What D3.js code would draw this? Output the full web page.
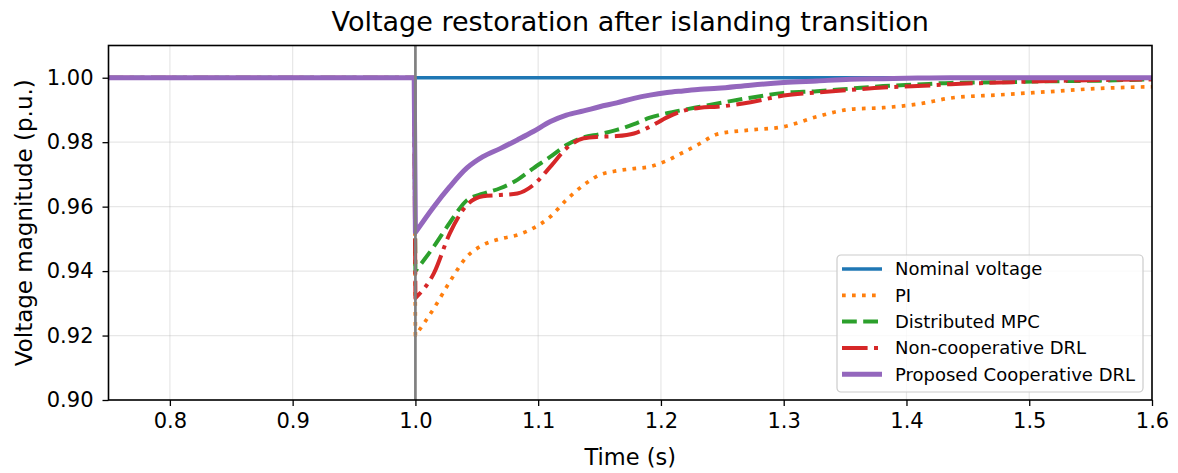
<!DOCTYPE html>
<html>
<head>
<meta charset="utf-8">
<script src="https://cdn.jsdelivr.net/npm/d3@7/dist/d3.min.js"></script>
<style>
  html, body { margin: 0; padding: 0; background: #fff; }
  svg { display: block; font-family: "DejaVu Sans", sans-serif; }
</style>
</head>
<body>
<svg id="chart" width="1178" height="473"></svg>
<script>
// Time axis (s); the fault-to-island event happens at t = 1.0 s
const time = [0.75, 0.999, 1.0, 1.015, 1.028, 1.042, 1.055, 1.069, 1.083, 1.096, 1.110, 1.123,
  1.137, 1.150, 1.164, 1.178, 1.191, 1.205, 1.218, 1.232, 1.246, 1.273, 1.300, 1.327,
  1.354, 1.381, 1.409, 1.436, 1.476, 1.517, 1.558, 1.600];

// Nominal voltage reference
const nominalTime = [0.75, 1.6];
const nominalVoltage = [1.0, 1.0];

// Voltage responses of each controller (p.u.)
const piVoltage = [1.0, 1.0, 0.9200, 0.9284, 0.9367, 0.9445, 0.9481, 0.9500, 0.9512, 0.9533, 0.9569, 0.9621,
  0.9667, 0.9698, 0.9711, 0.9718, 0.9724, 0.9743, 0.9768, 0.9796, 0.9825, 0.9838, 0.9848, 0.9879,
  0.9902, 0.9907, 0.9918, 0.9937, 0.9947, 0.9957, 0.9967, 0.9972];

const mpcVoltage = [1.0, 1.0, 0.9400, 0.9476, 0.9550, 0.9620, 0.9640, 0.9657, 0.9683, 0.9719, 0.9755, 0.9791,
  0.9815, 0.9825, 0.9838, 0.9856, 0.9876, 0.9890, 0.9900, 0.9910, 0.9920, 0.9938, 0.9953, 0.9958,
  0.9966, 0.9974, 0.9979, 0.9984, 0.9986, 0.9989, 0.9991, 0.9995];

const nonCoopVoltage = [1.0, 1.0, 0.9316, 0.9393, 0.9517, 0.9605, 0.9632, 0.9636, 0.9641, 0.9667, 0.9724, 0.9781,
  0.9812, 0.9817, 0.9819, 0.9827, 0.9848, 0.9877, 0.9897, 0.9907, 0.9910, 0.9924, 0.9945, 0.9954,
  0.9962, 0.9970, 0.9974, 0.9980, 0.9985, 0.9990, 0.9993, 0.9995];

const coopVoltage = [1.0, 1.0, 0.9520, 0.9600, 0.9662, 0.9720, 0.9755, 0.9780, 0.9807, 0.9833, 0.9864, 0.9884,
  0.9897, 0.9910, 0.9922, 0.9936, 0.9946, 0.9954, 0.9959, 0.9964, 0.9967, 0.9977, 0.9985, 0.9990,
  0.9995, 0.9997, 0.9999, 1.0, 1.0, 1.0, 1.0, 1.0];

const seriesNames = ["Nominal voltage", "PI", "Distributed MPC", "Non-cooperative DRL", "Proposed Cooperative DRL"];
const xTicks = [0.8, 0.9, 1.0, 1.1, 1.2, 1.3, 1.4, 1.5, 1.6];
const yTicks = [0.90, 0.92, 0.94, 0.96, 0.98, 1.00];
const eventTime = 1.0;

const margin = { left: 108.5, right: 1178 - 1152, top: 45.5, bottom: 473 - 400 };
const W = 1178, H = 473;
const svg = d3.select("#chart");

const x = d3.scaleLinear().domain([0.75, 1.6]).range([margin.left, W - margin.right]);
const y = d3.scaleLinear().domain([0.90, 1.01]).range([H - margin.bottom, margin.top]);

// Clip lines to the axes area
svg.append("defs").append("clipPath").attr("id", "plotClip")
  .append("rect")
  .attr("x", x.range()[0]).attr("y", y.range()[1])
  .attr("width", x.range()[1] - x.range()[0])
  .attr("height", y.range()[0] - y.range()[1]);

// Grid
const grid = svg.append("g").attr("stroke", "#b0b0b0").attr("stroke-opacity", 0.3).attr("stroke-width", 1.2);
grid.selectAll("line.vx").data(xTicks).join("line")
  .attr("x1", d => x(d)).attr("x2", d => x(d))
  .attr("y1", y.range()[0]).attr("y2", y.range()[1]);
grid.selectAll("line.hy").data(yTicks).join("line")
  .attr("y1", d => y(d)).attr("y2", d => y(d))
  .attr("x1", x.range()[0]).attr("x2", x.range()[1]);

const styles = [
  { color: "#1f77b4", width: 3.3, dash: null },
  { color: "#ff7f0e", width: 3.7, dash: "3.7,6.3" },
  { color: "#2ca02c", width: 4, dash: "14.8,6.4" },
  { color: "#d62728", width: 4, dash: "25.6,6.4,4,6.4" },
  { color: "#9467bd", width: 5, dash: null }
];

const seriesData = [
  nominalTime.map((t, i) => [t, nominalVoltage[i]]),
  time.map((t, i) => [t, piVoltage[i]]),
  time.map((t, i) => [t, mpcVoltage[i]]),
  time.map((t, i) => [t, nonCoopVoltage[i]]),
  time.map((t, i) => [t, coopVoltage[i]])
];

// Pre-event part and the step are straight; the recovery is smoothed.
const straight = d3.line().x(d => x(d[0])).y(d => y(d[1]));
const smooth = d3.line().x(d => x(d[0])).y(d => y(d[1])).curve(d3.curveMonotoneX);
function pathFor(data) {
  const k = data.findIndex(d => d[0] >= eventTime);
  if (k <= 0) return straight(data);
  const head = straight(data.slice(0, k + 1));
  const tail = smooth(data.slice(k)).replace(/^M[^LC]*/, "");
  return head + tail;
}

const plot = svg.append("g").attr("clip-path", "url(#plotClip)");
seriesData.forEach((data, i) => {
  plot.append("path")
    .attr("d", pathFor(data))
    .attr("fill", "none")
    .attr("stroke", styles[i].color)
    .attr("stroke-width", styles[i].width)
    .attr("stroke-dasharray", styles[i].dash)
    .attr("stroke-linejoin", "round")
    .attr("stroke-linecap", "butt");
});

// Islanding instant marker
plot.append("line")
  .attr("x1", x(eventTime)).attr("x2", x(eventTime))
  .attr("y1", y.range()[0]).attr("y2", y.range()[1])
  .attr("stroke", "#808080").attr("stroke-width", 2.7);

// Axes
const xAxis = svg.append("g")
  .attr("transform", `translate(0,${y.range()[0]})`)
  .call(d3.axisBottom(x).tickValues(xTicks).tickFormat(d3.format(".1f")).tickSize(6).tickPadding(7));
const yAxis = svg.append("g")
  .attr("transform", `translate(${x.range()[0]},0)`)
  .call(d3.axisLeft(y).tickValues(yTicks).tickFormat(d3.format(".2f")).tickSize(6).tickPadding(9));

[xAxis, yAxis].forEach(g => {
  g.select(".domain").remove();
  g.selectAll(".tick line").attr("stroke", "#000").attr("stroke-width", 1.3);
  g.selectAll(".tick text").attr("fill", "#000").style("font-size", "21px")
    .style("font-family", "'DejaVu Sans', sans-serif");
});

// Frame
svg.append("rect")
  .attr("x", x.range()[0]).attr("y", y.range()[1])
  .attr("width", x.range()[1] - x.range()[0])
  .attr("height", y.range()[0] - y.range()[1])
  .attr("fill", "none").attr("stroke", "#000").attr("stroke-width", 1.6);

// Title and axis labels
svg.append("text")
  .attr("x", (x.range()[0] + x.range()[1]) / 2).attr("y", 31)
  .attr("text-anchor", "middle").style("font-size", "27px").attr("fill", "#000")
  .text("Voltage restoration after islanding transition");

svg.append("text")
  .attr("x", (x.range()[0] + x.range()[1]) / 2).attr("y", 465)
  .attr("text-anchor", "middle").style("font-size", "22.5px").attr("fill", "#000")
  .text("Time (s)");

svg.append("text")
  .attr("transform", `translate(32,${(y.range()[0] + y.range()[1]) / 2}) rotate(-90)`)
  .attr("text-anchor", "middle").style("font-size", "23px").attr("fill", "#000")
  .text("Voltage magnitude (p.u.)");

// Legend
const legend = svg.append("g").attr("transform", "translate(837,255)");
legend.append("rect")
  .attr("width", 306).attr("height", 137).attr("rx", 4)
  .attr("fill", "#fff").attr("fill-opacity", 0.8)
  .attr("stroke", "#cccccc").attr("stroke-width", 1.2);
seriesNames.forEach((name, i) => {
  const yy = 14 + i * 26.3;
  legend.append("line")
    .attr("x1", 5).attr("x2", 45).attr("y1", yy).attr("y2", yy)
    .attr("stroke", styles[i].color)
    .attr("stroke-width", styles[i].width)
    .attr("stroke-dasharray", styles[i].dash);
  legend.append("text")
    .attr("x", 58).attr("y", yy).attr("dy", "0.35em")
    .style("font-size", "18px").attr("fill", "#000")
    .text(name);
});
</script>
</body>
</html>
